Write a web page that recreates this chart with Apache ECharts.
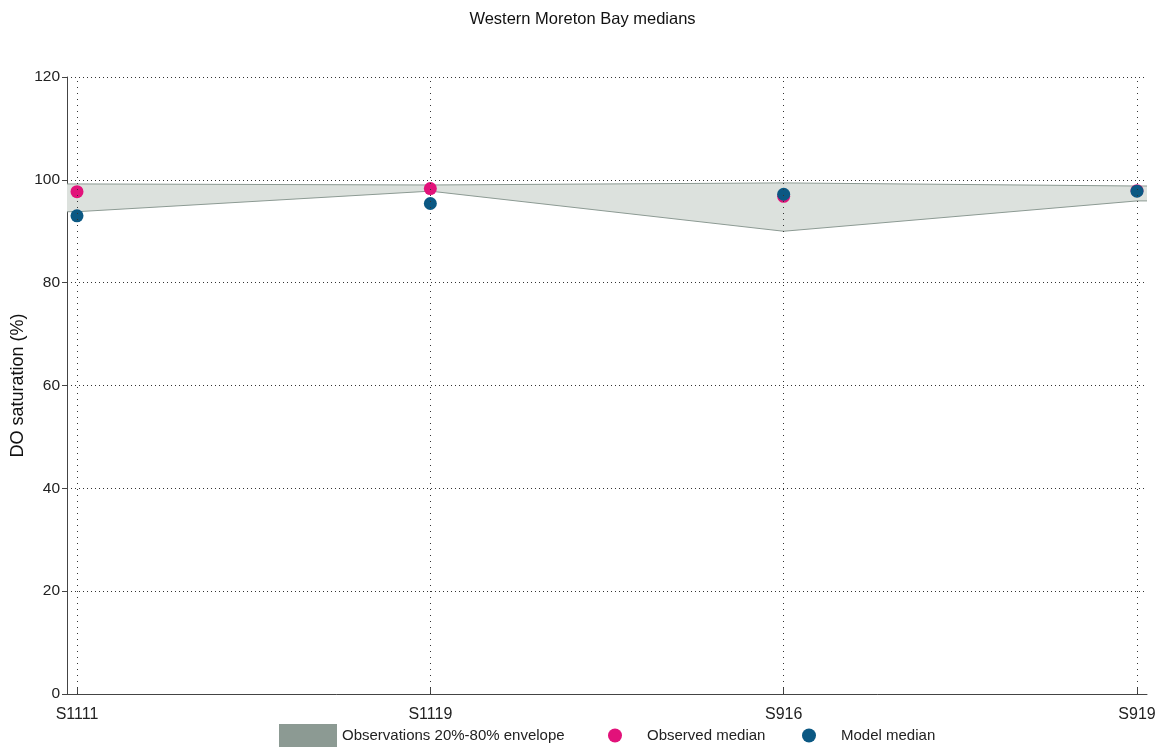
<!DOCTYPE html>
<html>
<head>
<meta charset="utf-8">
<script src="https://cdn.jsdelivr.net/npm/echarts@6/dist/echarts.min.js"></script>
<style>html,body{margin:0;padding:0;background:#fff}#c{width:1165px;height:754px}</style>
</head>
<body>
<div id="c"></div>
<script>
const categories = ['S1111', 'S1119', 'S916', 'S919'];
const envLow = [93.8, 97.8, 90.0, 95.9];
const envHigh = [99.2, 99.0, 99.4, 98.8];
const observed = [97.7, 98.3, 96.8, 97.9];
const model = [93.0, 95.4, 97.2, 97.8];
const yTicks = [0, 20, 40, 60, 80, 100, 120];

const pad = 0.0283;
const xMin = -pad, xMax = categories.length - 1 + pad;
const idx = categories.map((c, i) => i);
// envelope extended flat to the plot edges
const envX = [xMin].concat(idx, [xMax]);
const lowExt = [envLow[0]].concat(envLow, [envLow[envLow.length - 1]]);
const highExt = [envHigh[0]].concat(envHigh, [envHigh[envHigh.length - 1]]);

const chart = echarts.init(document.getElementById('c'));
const font = 'Liberation Sans, Arial, sans-serif';
chart.setOption({
  animation: false,
  textStyle: { fontFamily: font },
  title: {
    text: 'Western Moreton Bay medians', left: 'center', top: 6,
    textStyle: { fontSize: 16.5, fontWeight: 'normal', color: '#111', fontFamily: font }
  },
  grid: { left: 67, right: 18, top: 77, bottom: 60, outerBoundsMode: 'none', containLabel: false },
  xAxis: {
    type: 'value', min: xMin, max: xMax,
    axisLine: { show: true, onZero: false, lineStyle: { color: '#444', width: 1 } },
    axisTick: { show: true, inside: true, length: 6, customValues: idx, lineStyle: { color: '#444' } },
    axisLabel: {
      customValues: idx, margin: 13, fontSize: 16, color: '#222', fontFamily: font,
      formatter: v => categories[Math.round(v)] || ''
    },
    splitLine: { show: false }
  },
  yAxis: {
    type: 'value', min: 0, max: 120, interval: 20,
    name: 'DO saturation (%)', nameLocation: 'middle', nameGap: 40, nameMoveOverlap: false,
    nameTextStyle: { fontSize: 18, color: '#111', fontFamily: font },
    axisLine: { show: true, onZero: false, lineStyle: { color: '#444', width: 1 } },
    axisTick: { show: true, length: 5, lineStyle: { color: '#444' } },
    axisLabel: { fontSize: 15.5, color: '#222', margin: 7, fontFamily: font },
    splitLine: { show: true, lineStyle: { type: [1, 3], color: '#333', width: 1 } }
  },
  legend: [
    { data: [{ name: 'Observations 20%-80% envelope', icon: 'rect' }], left: 279, top: 724, itemWidth: 58, itemHeight: 23, itemGap: 6, padding: 0,
      textStyle: { fontSize: 15, color: '#222', fontFamily: font, padding: [0, 0, 0, 0] }, selectedMode: false },
    { data: [{ name: 'Observed median', icon: 'circle' }], left: 608, top: 728, itemWidth: 14, itemHeight: 14, padding: 0,
      textStyle: { fontSize: 15, color: '#222', fontFamily: font, padding: [0, 0, 0, 20] }, selectedMode: false },
    { data: [{ name: 'Model median', icon: 'circle' }], left: 802, top: 728, itemWidth: 14, itemHeight: 14, padding: 0,
      textStyle: { fontSize: 15, color: '#222', fontFamily: font, padding: [0, 0, 0, 20] }, selectedMode: false }
  ],
  series: [
    {
      name: 'Observations 20%-80% envelope', type: 'custom', silent: true, z: 2,
      itemStyle: { color: '#8c9a93' },
      data: envX.map((x, i) => [x, lowExt[i], highExt[i]]),
      encode: { x: 0, y: [1, 2] },
      renderItem: function (params, api) {
        if (params.dataIndex !== 0) return null;
        const top = envX.map((x, i) => api.coord([x, highExt[i]]));
        const bot = envX.map((x, i) => api.coord([x, lowExt[i]]));
        const poly = top.concat(bot.slice().reverse());
        return {
          type: 'group',
          children: [
            { type: 'polygon', shape: { points: poly }, style: { fill: '#dce1dd', stroke: null } },
            { type: 'polyline', shape: { points: top }, style: { fill: null, stroke: '#8c9a93', lineWidth: 1 } },
            { type: 'polyline', shape: { points: bot }, style: { fill: null, stroke: '#8c9a93', lineWidth: 1 } }
          ]
        };
      }
    },
    {
      name: 'grid', type: 'line', data: [], silent: true, z: 1,
      markLine: {
        silent: true, symbol: 'none', label: { show: false },
        lineStyle: { type: [1, 5], color: '#333', width: 1 },
        data: idx.map(i => [{ coord: [i, 0] }, { coord: [i, 120] }])
      }
    },
    {
      name: 'Observed median', type: 'scatter', symbol: 'circle', symbolSize: 13,
      data: idx.map(i => [i, observed[i]]),
      itemStyle: { color: '#e2127a', opacity: 1 }, z: 3
    },
    {
      name: 'Model median', type: 'scatter', symbol: 'circle', symbolSize: 13,
      data: idx.map(i => [i, model[i]]),
      itemStyle: { color: '#0b5883', opacity: 1 }, z: 4
    }
  ]
});
</script>
</body>
</html>
